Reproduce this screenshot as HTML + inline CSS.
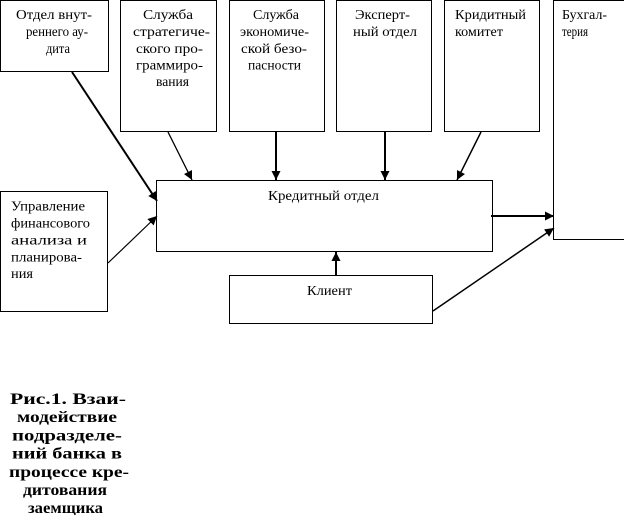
<!DOCTYPE html>
<html>
<head>
<meta charset="utf-8">
<style>
html,body{margin:0;padding:0;background:#fff;}
svg{display:block;}
text{font-family:"Liberation Serif","Noto Serif CJK SC",serif;font-size:14px;fill:#000;}
.b{font-weight:bold;font-size:16px;}
</style>
</head>
<body>
<svg width="624" height="515" viewBox="0 0 624 515" xmlns="http://www.w3.org/2000/svg">
<defs>
<marker id="ah" markerUnits="userSpaceOnUse" markerWidth="10" markerHeight="10" refX="9" refY="4.5" orient="auto">
<path d="M0,0 L9,4.5 L0,9 z" fill="#000"/>
</marker>
</defs>
<g fill="none" stroke="#000" stroke-width="1">
<rect x="0.5" y="0.5" width="108" height="71"/>
<rect x="120.5" y="0.5" width="96" height="131"/>
<rect x="229.5" y="0.5" width="95" height="131"/>
<rect x="336.5" y="0.5" width="95" height="131"/>
<rect x="444.5" y="0.5" width="95" height="131"/>
<rect x="553.5" y="0.5" width="80" height="239"/>
<rect x="156.5" y="180.5" width="336" height="71"/>
<rect x="0.5" y="191.5" width="107" height="120"/>
<rect x="229.5" y="275.5" width="203" height="48"/>
</g>
<g stroke="#000" fill="none">
<line x1="72" y1="72" x2="157" y2="201" stroke-width="2" marker-end="url(#ah)"/>
<line x1="168" y1="132" x2="192" y2="180" stroke-width="1.3" marker-end="url(#ah)"/>
<line x1="276" y1="132" x2="276" y2="180" stroke-width="2" marker-end="url(#ah)"/>
<line x1="385" y1="132" x2="385" y2="180" stroke-width="2" marker-end="url(#ah)"/>
<line x1="481" y1="132" x2="457" y2="180" stroke-width="1.5" marker-end="url(#ah)"/>
<line x1="108" y1="263" x2="157" y2="216" stroke-width="1.2" marker-end="url(#ah)"/>
<line x1="336" y1="275" x2="336" y2="252" stroke-width="2" marker-end="url(#ah)"/>
<line x1="491" y1="216" x2="554" y2="216" stroke-width="2" marker-end="url(#ah)"/>
<line x1="433" y1="311" x2="554" y2="228" stroke-width="1.5" marker-end="url(#ah)"/>
</g>
<!-- Box 1 -->
<text x="16" y="19" textLength="76" lengthAdjust="spacingAndGlyphs">Отдел внут-</text>
<text x="26" y="36" textLength="62" lengthAdjust="spacingAndGlyphs">реннего ау-</text>
<text x="46" y="53" textLength="24" lengthAdjust="spacingAndGlyphs">дита</text>
<!-- Box 2 -->
<text x="143" y="19" textLength="50" lengthAdjust="spacingAndGlyphs">Служба</text>
<text x="133" y="36" textLength="77" lengthAdjust="spacingAndGlyphs">стратегиче-</text>
<text x="136" y="53" textLength="67" lengthAdjust="spacingAndGlyphs">ского про-</text>
<text x="136" y="69.5" textLength="67" lengthAdjust="spacingAndGlyphs">граммиро-</text>
<text x="156" y="86" textLength="33" lengthAdjust="spacingAndGlyphs">вания</text>
<!-- Box 3 -->
<text x="253" y="19" textLength="46" lengthAdjust="spacingAndGlyphs">Служба</text>
<text x="240" y="36" textLength="69" lengthAdjust="spacingAndGlyphs">экономиче-</text>
<text x="241" y="53" textLength="66" lengthAdjust="spacingAndGlyphs">ской безо-</text>
<text x="248" y="69.5" textLength="53" lengthAdjust="spacingAndGlyphs">пасности</text>
<!-- Box 4 -->
<text x="355" y="19" textLength="55" lengthAdjust="spacingAndGlyphs">Эксперт-</text>
<text x="353" y="36" textLength="64" lengthAdjust="spacingAndGlyphs">ный отдел</text>
<!-- Box 5 -->
<text x="455" y="19" textLength="71" lengthAdjust="spacingAndGlyphs">Кридитный</text>
<text x="455" y="36" textLength="48" lengthAdjust="spacingAndGlyphs">комитет</text>
<!-- Box 6 -->
<text x="562" y="19" textLength="45" lengthAdjust="spacingAndGlyphs">Бухгал-</text>
<text x="562" y="36" textLength="26" lengthAdjust="spacingAndGlyphs">терия</text>
<!-- Credit -->
<text x="268" y="200" textLength="111" lengthAdjust="spacingAndGlyphs">Кредитный отдел</text>
<!-- Upravlenie -->
<text x="11" y="210.5" textLength="74" lengthAdjust="spacingAndGlyphs">Управление</text>
<text x="11" y="227.5" textLength="79" lengthAdjust="spacingAndGlyphs">финансового</text>
<text x="11" y="244.5" textLength="76" lengthAdjust="spacingAndGlyphs">анализа и</text>
<text x="11" y="261.5" textLength="71" lengthAdjust="spacingAndGlyphs">планирова-</text>
<text x="11" y="278" textLength="22" lengthAdjust="spacingAndGlyphs">ния</text>
<!-- Client -->
<text x="307" y="295" textLength="45" lengthAdjust="spacingAndGlyphs">Клиент</text>
<!-- Caption -->
<text class="b" x="10" y="404" textLength="116" lengthAdjust="spacingAndGlyphs">Рис.1. Взаи-</text>
<text class="b" x="17" y="422" textLength="100" lengthAdjust="spacingAndGlyphs">модействие</text>
<text class="b" x="12" y="440.5" textLength="110" lengthAdjust="spacingAndGlyphs">подразделе-</text>
<text class="b" x="12" y="458.5" textLength="110" lengthAdjust="spacingAndGlyphs">ний банка в</text>
<text class="b" x="9" y="477" textLength="120" lengthAdjust="spacingAndGlyphs">процессе кре-</text>
<text class="b" x="23" y="495" textLength="84" lengthAdjust="spacingAndGlyphs">дитования</text>
<text class="b" x="28" y="513" textLength="75" lengthAdjust="spacingAndGlyphs">заемщика</text>
</svg>
</body>
</html>
